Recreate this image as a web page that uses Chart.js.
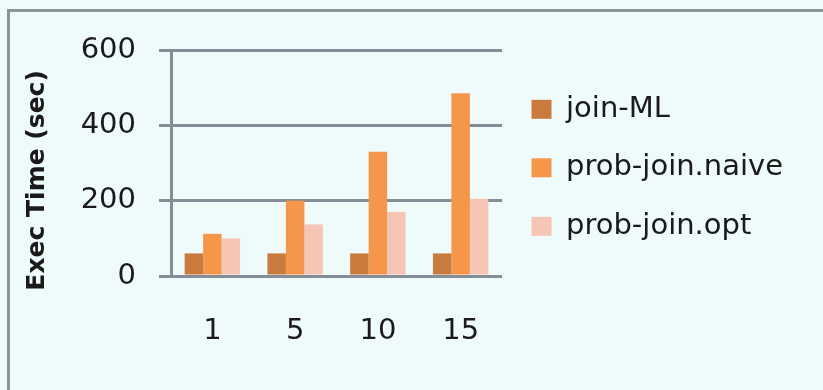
<!DOCTYPE html>
<html>
<head>
<meta charset="utf-8">
<script src="https://cdn.jsdelivr.net/npm/chart.js@4"></script>
<style>
  html, body { margin: 0; padding: 0; background: #effbfb; overflow: hidden; }
  #wrap { position: relative; width: 823px; height: 390px; }
  #frame {
    position: absolute; left: 7px; top: 9px; width: 900px; height: 500px;
    border-left: 3px solid #8c949b; border-top: 3px solid #8c949b;
  }
  canvas { position: absolute; left: 0; top: 0; }
</style>
</head>
<body>
<div id="wrap">
  <div id="frame"></div>
  <canvas id="chart" width="823" height="390"></canvas>
</div>
<script>
// data
const categories = ['1', '5', '10', '15'];
const joinML = [60, 60, 60, 60];
const probJoinNaive = [112, 200, 330, 485];
const probJoinOpt = [100, 137, 170, 205];
const yTicks = [0, 200, 400, 600];

const gridColor = '#858e97';
const textColor = '#1a1a1a';

Chart.defaults.font.family = "'DejaVu Sans', sans-serif";
Chart.defaults.color = textColor;

const ctx = document.getElementById('chart').getContext('2d');
new Chart(ctx, {
  type: 'bar',
  data: {
    labels: categories,
    datasets: [
      { label: 'join-ML', data: joinML, backgroundColor: '#c97b3d' },
      { label: 'prob-join.naive', data: probJoinNaive, backgroundColor: '#f5964b' },
      { label: 'prob-join.opt', data: probJoinOpt, backgroundColor: '#f5c5b5' }
    ]
  },
  options: {
    responsive: false,
    animation: false,
    devicePixelRatio: 1,
    categoryPercentage: 0.67,
    barPercentage: 1,
    layout: { padding: { left: 18, top: 50, right: 30, bottom: 14 } },
    plugins: {
      tooltip: { enabled: false },
      legend: {
        position: 'right',
        align: 'center',
        fullSize: false,
        maxWidth: 320,
        // empty title just nudges the items down a little
        title: { display: true, text: ' ', font: { size: 8 }, padding: 0 },
        labels: {
          boxWidth: 20,
          boxHeight: 19,
          padding: 29.5,
          font: { size: 29 },
          color: textColor
        }
      }
    },
    scales: {
      x: {
        grid: { display: false, drawTicks: false },
        border: { display: false },
        ticks: { font: { size: 29 }, padding: 38, color: textColor },
        afterFit: s => { s.height = 100; }
      },
      y: {
        min: yTicks[0],
        max: yTicks[yTicks.length - 1],
        ticks: { stepSize: yTicks[1] - yTicks[0], font: { size: 29 }, padding: 23, color: textColor },
        grid: { color: gridColor, lineWidth: 3, tickLength: 12 },
        border: { display: true, color: gridColor, width: 3 },
        title: {
          display: true,
          text: 'Exec Time (sec)    ',
          font: { size: 25, weight: 'bold' },
          color: textColor,
          padding: { top: 4, bottom: 0 }
        },
        afterFit: s => { s.width = 153; }
      }
    }
  }
});
</script>
</body>
</html>
